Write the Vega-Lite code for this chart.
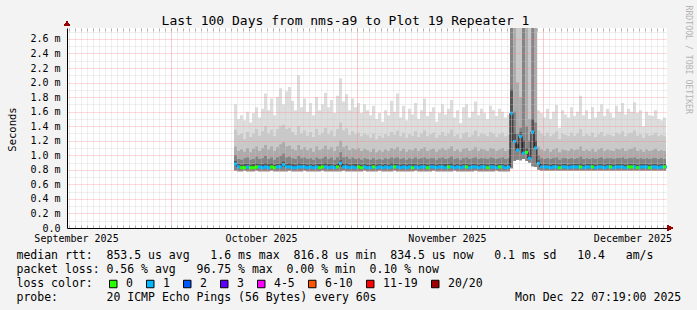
{
  "$schema": "https://vega.github.io/schema/vega-lite/v6.json",
  "width": 600,
  "height": 200,
  "autosize": "none",
  "padding": {"left": 67, "top": 28, "right": 30, "bottom": 82},
  "background": "#f3f3f3",
  "config": {
    "font": "DejaVu Sans Mono",
    "view": {"fill": "#ffffff", "stroke": null},
    "axis": {"labelFont": "DejaVu Sans Mono", "titleFont": "DejaVu Sans Mono", "labelColor": "#000000", "titleColor": "#000000", "titleFontWeight": "normal"}
  },
  "data": {"values": [
    {"t":"2025-10-11T12:00","mn":0.79,"md":0.88,"a":0.92,"b":1.0,"c":1.12,"d":1.35,"mx":1.7,"l":"1"},
    {"t":"2025-10-12T00:00","mn":0.78,"md":0.84,"a":0.88,"b":0.95,"c":1.06,"d":1.28,"mx":1.5,"l":"1"},
    {"t":"2025-10-12T12:00","mn":0.78,"md":0.83,"a":0.87,"b":0.94,"c":1.08,"d":1.3,"mx":1.55,"l":"0"},
    {"t":"2025-10-13T00:00","mn":0.79,"md":0.83,"a":0.88,"b":0.96,"c":1.05,"d":1.22,"mx":1.48,"l":"0"},
    {"t":"2025-10-13T12:00","mn":0.78,"md":0.84,"a":0.88,"b":0.97,"c":1.1,"d":1.32,"mx":1.6,"l":"1"},
    {"t":"2025-10-14T00:00","mn":0.78,"md":0.83,"a":0.87,"b":0.94,"c":1.04,"d":1.25,"mx":1.45,"l":"0"},
    {"t":"2025-10-14T12:00","mn":0.78,"md":0.83,"a":0.88,"b":0.95,"c":1.09,"d":1.3,"mx":1.58,"l":"0"},
    {"t":"2025-10-15T00:00","mn":0.79,"md":0.84,"a":0.89,"b":0.98,"c":1.12,"d":1.36,"mx":1.66,"l":"0"},
    {"t":"2025-10-15T12:00","mn":0.78,"md":0.84,"a":0.88,"b":0.95,"c":1.06,"d":1.27,"mx":1.52,"l":"1"},
    {"t":"2025-10-16T00:00","mn":0.78,"md":0.83,"a":0.88,"b":0.96,"c":1.1,"d":1.33,"mx":1.64,"l":"1"},
    {"t":"2025-10-16T12:00","mn":0.78,"md":0.84,"a":0.89,"b":0.99,"c":1.14,"d":1.4,"mx":1.85,"l":"1"},
    {"t":"2025-10-17T00:00","mn":0.78,"md":0.83,"a":0.88,"b":0.95,"c":1.08,"d":1.3,"mx":1.62,"l":"1"},
    {"t":"2025-10-17T12:00","mn":0.79,"md":0.84,"a":0.89,"b":0.97,"c":1.12,"d":1.35,"mx":1.78,"l":"0"},
    {"t":"2025-10-18T00:00","mn":0.78,"md":0.83,"a":0.87,"b":0.94,"c":1.06,"d":1.26,"mx":1.55,"l":"0"},
    {"t":"2025-10-18T12:00","mn":0.78,"md":0.84,"a":0.88,"b":0.97,"c":1.11,"d":1.36,"mx":1.8,"l":"1"},
    {"t":"2025-10-19T00:00","mn":0.78,"md":0.84,"a":0.89,"b":0.99,"c":1.15,"d":1.4,"mx":1.92,"l":"1"},
    {"t":"2025-10-19T12:00","mn":0.78,"md":0.87,"a":0.91,"b":1.02,"c":1.18,"d":1.42,"mx":1.7,"l":"1"},
    {"t":"2025-10-20T00:00","mn":0.78,"md":0.84,"a":0.88,"b":0.97,"c":1.12,"d":1.36,"mx":1.88,"l":"1"},
    {"t":"2025-10-20T12:00","mn":0.79,"md":0.84,"a":0.89,"b":0.98,"c":1.13,"d":1.38,"mx":1.94,"l":"1"},
    {"t":"2025-10-21T00:00","mn":0.78,"md":0.83,"a":0.88,"b":0.96,"c":1.09,"d":1.32,"mx":1.75,"l":"1"},
    {"t":"2025-10-21T12:00","mn":0.78,"md":0.83,"a":0.87,"b":0.95,"c":1.07,"d":1.28,"mx":1.62,"l":"1"},
    {"t":"2025-10-22T00:00","mn":0.78,"md":0.84,"a":0.89,"b":0.99,"c":1.14,"d":1.4,"mx":2.1,"l":"1"},
    {"t":"2025-10-22T12:00","mn":0.78,"md":0.84,"a":0.88,"b":0.96,"c":1.08,"d":1.3,"mx":1.66,"l":"1"},
    {"t":"2025-10-23T00:00","mn":0.79,"md":0.84,"a":0.88,"b":0.97,"c":1.11,"d":1.34,"mx":1.78,"l":"1"},
    {"t":"2025-10-23T12:00","mn":0.78,"md":0.83,"a":0.87,"b":0.95,"c":1.07,"d":1.27,"mx":1.6,"l":"1"},
    {"t":"2025-10-24T00:00","mn":0.78,"md":0.84,"a":0.88,"b":0.96,"c":1.1,"d":1.32,"mx":1.72,"l":"1"},
    {"t":"2025-10-24T12:00","mn":0.78,"md":0.83,"a":0.87,"b":0.94,"c":1.05,"d":1.25,"mx":1.55,"l":"1"},
    {"t":"2025-10-25T00:00","mn":0.78,"md":0.84,"a":0.88,"b":0.97,"c":1.12,"d":1.36,"mx":1.8,"l":"1"},
    {"t":"2025-10-25T12:00","mn":0.78,"md":0.83,"a":0.88,"b":0.95,"c":1.07,"d":1.28,"mx":1.62,"l":"0"},
    {"t":"2025-10-26T00:00","mn":0.79,"md":0.84,"a":0.88,"b":0.96,"c":1.09,"d":1.31,"mx":1.7,"l":"0"},
    {"t":"2025-10-26T12:00","mn":0.78,"md":0.84,"a":0.89,"b":0.98,"c":1.13,"d":1.38,"mx":1.86,"l":"1"},
    {"t":"2025-10-27T00:00","mn":0.78,"md":0.83,"a":0.88,"b":0.95,"c":1.08,"d":1.29,"mx":1.66,"l":"1"},
    {"t":"2025-10-27T12:00","mn":0.78,"md":0.84,"a":0.88,"b":0.97,"c":1.11,"d":1.34,"mx":1.76,"l":"1"},
    {"t":"2025-10-28T00:00","mn":0.78,"md":0.83,"a":0.87,"b":0.94,"c":1.06,"d":1.26,"mx":1.58,"l":"1"},
    {"t":"2025-10-28T12:00","mn":0.78,"md":0.84,"a":0.88,"b":0.97,"c":1.12,"d":1.36,"mx":1.82,"l":"0"},
    {"t":"2025-10-29T00:00","mn":0.78,"md":0.89,"a":0.93,"b":1.04,"c":1.2,"d":1.45,"mx":2.06,"l":"1"},
    {"t":"2025-10-29T12:00","mn":0.79,"md":0.84,"a":0.88,"b":0.97,"c":1.11,"d":1.34,"mx":1.74,"l":"1"},
    {"t":"2025-10-30T00:00","mn":0.78,"md":0.84,"a":0.89,"b":0.98,"c":1.13,"d":1.37,"mx":1.84,"l":"1"},
    {"t":"2025-10-30T12:00","mn":0.78,"md":0.83,"a":0.87,"b":0.95,"c":1.07,"d":1.28,"mx":1.62,"l":"1"},
    {"t":"2025-10-31T00:00","mn":0.78,"md":0.84,"a":0.88,"b":0.97,"c":1.1,"d":1.33,"mx":1.78,"l":"1"},
    {"t":"2025-10-31T12:00","mn":0.78,"md":0.83,"a":0.88,"b":0.95,"c":1.08,"d":1.29,"mx":1.66,"l":"1"},
    {"t":"2025-11-01T00:00","mn":0.78,"md":0.84,"a":0.88,"b":0.96,"c":1.1,"d":1.31,"mx":1.72,"l":"0"},
    {"t":"2025-11-01T12:00","mn":0.78,"md":0.83,"a":0.87,"b":0.94,"c":1.06,"d":1.26,"mx":1.58,"l":"0"},
    {"t":"2025-11-02T00:00","mn":0.79,"md":0.84,"a":0.88,"b":0.96,"c":1.09,"d":1.3,"mx":1.7,"l":"1"},
    {"t":"2025-11-02T12:00","mn":0.78,"md":0.83,"a":0.87,"b":0.95,"c":1.07,"d":1.28,"mx":1.62,"l":"1"},
    {"t":"2025-11-03T00:00","mn":0.78,"md":0.83,"a":0.87,"b":0.94,"c":1.05,"d":1.24,"mx":1.55,"l":"1"},
    {"t":"2025-11-03T12:00","mn":0.78,"md":0.84,"a":0.88,"b":0.96,"c":1.09,"d":1.3,"mx":1.68,"l":"0"},
    {"t":"2025-11-04T00:00","mn":0.78,"md":0.83,"a":0.87,"b":0.94,"c":1.04,"d":1.22,"mx":1.5,"l":"1"},
    {"t":"2025-11-04T12:00","mn":0.79,"md":0.84,"a":0.88,"b":0.95,"c":1.07,"d":1.27,"mx":1.58,"l":"1"},
    {"t":"2025-11-05T00:00","mn":0.78,"md":0.83,"a":0.87,"b":0.94,"c":1.05,"d":1.24,"mx":1.46,"l":"1"},
    {"t":"2025-11-05T12:00","mn":0.78,"md":0.84,"a":0.88,"b":0.96,"c":1.08,"d":1.29,"mx":1.62,"l":"1"},
    {"t":"2025-11-06T00:00","mn":0.78,"md":0.83,"a":0.87,"b":0.95,"c":1.06,"d":1.26,"mx":1.55,"l":"1"},
    {"t":"2025-11-06T12:00","mn":0.78,"md":0.84,"a":0.89,"b":0.97,"c":1.1,"d":1.32,"mx":1.75,"l":"1"},
    {"t":"2025-11-07T00:00","mn":0.79,"md":0.84,"a":0.88,"b":0.96,"c":1.08,"d":1.28,"mx":1.6,"l":"0"},
    {"t":"2025-11-07T12:00","mn":0.78,"md":0.84,"a":0.88,"b":0.97,"c":1.11,"d":1.34,"mx":1.85,"l":"1"},
    {"t":"2025-11-08T00:00","mn":0.78,"md":0.83,"a":0.87,"b":0.95,"c":1.06,"d":1.26,"mx":1.52,"l":"1"},
    {"t":"2025-11-08T12:00","mn":0.78,"md":0.84,"a":0.88,"b":0.96,"c":1.09,"d":1.31,"mx":1.68,"l":"1"},
    {"t":"2025-11-09T00:00","mn":0.78,"md":0.83,"a":0.87,"b":0.94,"c":1.05,"d":1.24,"mx":1.48,"l":"1"},
    {"t":"2025-11-09T12:00","mn":0.78,"md":0.84,"a":0.88,"b":0.96,"c":1.08,"d":1.29,"mx":1.64,"l":"1"},
    {"t":"2025-11-10T00:00","mn":0.78,"md":0.83,"a":0.88,"b":0.95,"c":1.07,"d":1.27,"mx":1.56,"l":"0"},
    {"t":"2025-11-10T12:00","mn":0.79,"md":0.84,"a":0.88,"b":0.97,"c":1.1,"d":1.33,"mx":1.72,"l":"1"},
    {"t":"2025-11-11T00:00","mn":0.78,"md":0.83,"a":0.87,"b":0.95,"c":1.06,"d":1.25,"mx":1.5,"l":"1"},
    {"t":"2025-11-11T12:00","mn":0.78,"md":0.84,"a":0.88,"b":0.96,"c":1.09,"d":1.3,"mx":1.62,"l":"1"},
    {"t":"2025-11-12T00:00","mn":0.78,"md":0.84,"a":0.88,"b":0.97,"c":1.11,"d":1.34,"mx":1.78,"l":"1"},
    {"t":"2025-11-12T12:00","mn":0.78,"md":0.83,"a":0.87,"b":0.95,"c":1.06,"d":1.26,"mx":1.54,"l":"0"},
    {"t":"2025-11-13T00:00","mn":0.78,"md":0.84,"a":0.88,"b":0.96,"c":1.08,"d":1.29,"mx":1.6,"l":"1"},
    {"t":"2025-11-13T12:00","mn":0.79,"md":0.84,"a":0.88,"b":0.96,"c":1.09,"d":1.31,"mx":1.66,"l":"1"},
    {"t":"2025-11-14T00:00","mn":0.78,"md":0.83,"a":0.87,"b":0.94,"c":1.05,"d":1.24,"mx":1.46,"l":"1"},
    {"t":"2025-11-14T12:00","mn":0.78,"md":0.84,"a":0.88,"b":0.96,"c":1.08,"d":1.28,"mx":1.58,"l":"1"},
    {"t":"2025-11-15T00:00","mn":0.78,"md":0.84,"a":0.88,"b":0.97,"c":1.1,"d":1.32,"mx":1.7,"l":"1"},
    {"t":"2025-11-15T12:00","mn":0.78,"md":0.83,"a":0.88,"b":0.95,"c":1.07,"d":1.27,"mx":1.56,"l":"1"},
    {"t":"2025-11-16T00:00","mn":0.78,"md":0.84,"a":0.88,"b":0.96,"c":1.09,"d":1.3,"mx":1.64,"l":"0"},
    {"t":"2025-11-16T12:00","mn":0.78,"md":0.84,"a":0.89,"b":0.98,"c":1.12,"d":1.35,"mx":1.76,"l":"1"},
    {"t":"2025-11-17T00:00","mn":0.79,"md":0.83,"a":0.87,"b":0.95,"c":1.06,"d":1.26,"mx":1.52,"l":"1"},
    {"t":"2025-11-17T12:00","mn":0.78,"md":0.84,"a":0.88,"b":0.96,"c":1.08,"d":1.29,"mx":1.62,"l":"1"},
    {"t":"2025-11-18T00:00","mn":0.78,"md":0.83,"a":0.87,"b":0.94,"c":1.05,"d":1.23,"mx":1.44,"l":"1"},
    {"t":"2025-11-18T12:00","mn":0.78,"md":0.84,"a":0.88,"b":0.96,"c":1.09,"d":1.3,"mx":1.66,"l":"1"},
    {"t":"2025-11-19T00:00","mn":0.78,"md":0.84,"a":0.88,"b":0.97,"c":1.1,"d":1.32,"mx":1.7,"l":"0"},
    {"t":"2025-11-19T12:00","mn":0.78,"md":0.83,"a":0.87,"b":0.95,"c":1.06,"d":1.25,"mx":1.52,"l":"1"},
    {"t":"2025-11-20T00:00","mn":0.78,"md":0.84,"a":0.88,"b":0.96,"c":1.08,"d":1.28,"mx":1.6,"l":"1"},
    {"t":"2025-11-20T12:00","mn":0.79,"md":0.84,"a":0.88,"b":0.97,"c":1.11,"d":1.34,"mx":1.74,"l":"1"},
    {"t":"2025-11-21T00:00","mn":0.78,"md":0.83,"a":0.87,"b":0.95,"c":1.06,"d":1.26,"mx":1.55,"l":"1"},
    {"t":"2025-11-21T12:00","mn":0.78,"md":0.84,"a":0.88,"b":0.96,"c":1.09,"d":1.3,"mx":1.64,"l":"1"},
    {"t":"2025-11-22T00:00","mn":0.78,"md":0.84,"a":0.88,"b":0.96,"c":1.08,"d":1.29,"mx":1.58,"l":"1"},
    {"t":"2025-11-22T12:00","mn":0.78,"md":0.83,"a":0.87,"b":0.95,"c":1.06,"d":1.26,"mx":1.5,"l":"0"},
    {"t":"2025-11-23T00:00","mn":0.78,"md":0.84,"a":0.88,"b":0.97,"c":1.1,"d":1.32,"mx":1.68,"l":"1"},
    {"t":"2025-11-23T12:00","mn":0.78,"md":0.84,"a":0.88,"b":0.96,"c":1.09,"d":1.3,"mx":1.62,"l":"1"},
    {"t":"2025-11-24T00:00","mn":0.79,"md":0.83,"a":0.87,"b":0.95,"c":1.06,"d":1.25,"mx":1.54,"l":"1"},
    {"t":"2025-11-24T12:00","mn":0.78,"md":0.84,"a":0.88,"b":0.96,"c":1.08,"d":1.29,"mx":1.64,"l":"0"},
    {"t":"2025-11-25T00:00","mn":0.78,"md":0.84,"a":0.88,"b":0.97,"c":1.1,"d":1.31,"mx":1.6,"l":"1"},
    {"t":"2025-11-25T12:00","mn":0.78,"md":0.83,"a":0.87,"b":0.95,"c":1.06,"d":1.26,"mx":1.52,"l":"1"},
    {"t":"2025-11-26T00:00","mn":0.78,"md":0.84,"a":0.88,"b":0.96,"c":1.08,"d":1.28,"mx":1.56,"l":"1"},
    {"t":"2025-11-26T12:00","mn":0.82,"md":1.58,"a":1.9,"b":3.0,"c":3.0,"d":3.0,"mx":3.0,"l":"1"},
    {"t":"2025-11-27T00:00","mn":0.92,"md":1.19,"a":1.3,"b":1.6,"c":3.0,"d":3.0,"mx":3.0,"l":"1"},
    {"t":"2025-11-27T12:00","mn":0.94,"md":1.07,"a":1.15,"b":1.3,"c":2.0,"d":3.0,"mx":3.0,"l":"1"},
    {"t":"2025-11-28T00:00","mn":0.93,"md":1.26,"a":1.32,"b":1.38,"c":1.8,"d":3.0,"mx":3.0,"l":"1"},
    {"t":"2025-11-28T12:00","mn":0.95,"md":1.03,"a":1.2,"b":3.0,"c":3.0,"d":3.0,"mx":3.0,"l":"1"},
    {"t":"2025-11-29T00:00","mn":0.92,"md":1.04,"a":1.1,"b":1.4,"c":3.0,"d":3.0,"mx":3.0,"l":"0"},
    {"t":"2025-11-29T12:00","mn":0.9,"md":0.96,"a":1.0,"b":1.2,"c":1.5,"d":3.0,"mx":3.0,"l":"1"},
    {"t":"2025-11-30T00:00","mn":0.85,"md":1.32,"a":1.5,"b":3.0,"c":3.0,"d":3.0,"mx":3.0,"l":"1"},
    {"t":"2025-11-30T12:00","mn":0.84,"md":1.1,"a":1.2,"b":1.45,"c":3.0,"d":3.0,"mx":3.0,"l":"1"},
    {"t":"2025-12-01T00:00","mn":0.8,"md":0.89,"a":0.93,"b":1.0,"c":1.12,"d":1.34,"mx":1.62,"l":"1"},
    {"t":"2025-12-01T12:00","mn":0.79,"md":0.84,"a":0.88,"b":0.96,"c":1.08,"d":1.3,"mx":1.58,"l":"1"},
    {"t":"2025-12-02T00:00","mn":0.79,"md":0.84,"a":0.88,"b":0.95,"c":1.06,"d":1.27,"mx":1.52,"l":"1"},
    {"t":"2025-12-02T12:00","mn":0.79,"md":0.84,"a":0.88,"b":0.96,"c":1.09,"d":1.31,"mx":1.64,"l":"1"},
    {"t":"2025-12-03T00:00","mn":0.79,"md":0.83,"a":0.87,"b":0.95,"c":1.05,"d":1.26,"mx":1.5,"l":"1"},
    {"t":"2025-12-03T12:00","mn":0.79,"md":0.84,"a":0.88,"b":0.96,"c":1.08,"d":1.29,"mx":1.6,"l":"1"},
    {"t":"2025-12-04T00:00","mn":0.79,"md":0.84,"a":0.88,"b":0.97,"c":1.1,"d":1.33,"mx":1.69,"l":"1"},
    {"t":"2025-12-04T12:00","mn":0.79,"md":0.83,"a":0.87,"b":0.94,"c":1.04,"d":1.22,"mx":1.38,"l":"0"},
    {"t":"2025-12-05T00:00","mn":0.79,"md":0.84,"a":0.88,"b":0.96,"c":1.08,"d":1.3,"mx":1.62,"l":"1"},
    {"t":"2025-12-05T12:00","mn":0.79,"md":0.84,"a":0.88,"b":0.96,"c":1.07,"d":1.28,"mx":1.56,"l":"1"},
    {"t":"2025-12-06T00:00","mn":0.79,"md":0.83,"a":0.87,"b":0.95,"c":1.06,"d":1.26,"mx":1.52,"l":"1"},
    {"t":"2025-12-06T12:00","mn":0.79,"md":0.84,"a":0.88,"b":0.96,"c":1.09,"d":1.31,"mx":1.66,"l":"1"},
    {"t":"2025-12-07T00:00","mn":0.79,"md":0.84,"a":0.88,"b":0.95,"c":1.07,"d":1.27,"mx":1.54,"l":"1"},
    {"t":"2025-12-07T12:00","mn":0.79,"md":0.84,"a":0.88,"b":0.96,"c":1.08,"d":1.3,"mx":1.6,"l":"1"},
    {"t":"2025-12-08T00:00","mn":0.79,"md":0.84,"a":0.89,"b":0.98,"c":1.12,"d":1.36,"mx":1.82,"l":"0"},
    {"t":"2025-12-08T12:00","mn":0.79,"md":0.83,"a":0.87,"b":0.95,"c":1.06,"d":1.26,"mx":1.55,"l":"1"},
    {"t":"2025-12-09T00:00","mn":0.79,"md":0.84,"a":0.88,"b":0.96,"c":1.08,"d":1.29,"mx":1.62,"l":"1"},
    {"t":"2025-12-09T12:00","mn":0.79,"md":0.84,"a":0.88,"b":0.95,"c":1.06,"d":1.27,"mx":1.5,"l":"1"},
    {"t":"2025-12-10T00:00","mn":0.79,"md":0.84,"a":0.88,"b":0.96,"c":1.09,"d":1.31,"mx":1.66,"l":"0"},
    {"t":"2025-12-10T12:00","mn":0.79,"md":0.83,"a":0.87,"b":0.95,"c":1.05,"d":1.25,"mx":1.52,"l":"1"},
    {"t":"2025-12-11T00:00","mn":0.79,"md":0.84,"a":0.88,"b":0.96,"c":1.08,"d":1.29,"mx":1.6,"l":"1"},
    {"t":"2025-12-11T12:00","mn":0.79,"md":0.84,"a":0.88,"b":0.97,"c":1.1,"d":1.32,"mx":1.7,"l":"1"},
    {"t":"2025-12-12T00:00","mn":0.79,"md":0.83,"a":0.87,"b":0.95,"c":1.06,"d":1.26,"mx":1.54,"l":"1"},
    {"t":"2025-12-12T12:00","mn":0.79,"md":0.84,"a":0.88,"b":0.96,"c":1.08,"d":1.29,"mx":1.64,"l":"1"},
    {"t":"2025-12-13T00:00","mn":0.79,"md":0.84,"a":0.88,"b":0.96,"c":1.07,"d":1.28,"mx":1.58,"l":"0"},
    {"t":"2025-12-13T12:00","mn":0.79,"md":0.83,"a":0.87,"b":0.95,"c":1.06,"d":1.26,"mx":1.52,"l":"1"},
    {"t":"2025-12-14T00:00","mn":0.79,"md":0.84,"a":0.88,"b":0.96,"c":1.09,"d":1.31,"mx":1.68,"l":"1"},
    {"t":"2025-12-14T12:00","mn":0.79,"md":0.84,"a":0.88,"b":0.96,"c":1.08,"d":1.29,"mx":1.6,"l":"1"},
    {"t":"2025-12-15T00:00","mn":0.79,"md":0.84,"a":0.88,"b":0.97,"c":1.1,"d":1.33,"mx":1.72,"l":"1"},
    {"t":"2025-12-15T12:00","mn":0.79,"md":0.83,"a":0.87,"b":0.95,"c":1.06,"d":1.26,"mx":1.56,"l":"1"},
    {"t":"2025-12-16T00:00","mn":0.79,"md":0.84,"a":0.88,"b":0.96,"c":1.08,"d":1.3,"mx":1.64,"l":"0"},
    {"t":"2025-12-16T12:00","mn":0.79,"md":0.84,"a":0.88,"b":0.96,"c":1.09,"d":1.31,"mx":1.6,"l":"0"},
    {"t":"2025-12-17T00:00","mn":0.79,"md":0.84,"a":0.88,"b":0.97,"c":1.11,"d":1.34,"mx":1.73,"l":"1"},
    {"t":"2025-12-17T12:00","mn":0.79,"md":0.83,"a":0.87,"b":0.95,"c":1.06,"d":1.27,"mx":1.58,"l":"0"},
    {"t":"2025-12-18T00:00","mn":0.79,"md":0.84,"a":0.88,"b":0.96,"c":1.08,"d":1.29,"mx":1.62,"l":"1"},
    {"t":"2025-12-18T12:00","mn":0.79,"md":0.84,"a":0.88,"b":0.95,"c":1.05,"d":1.24,"mx":1.4,"l":"1"},
    {"t":"2025-12-19T00:00","mn":0.79,"md":0.84,"a":0.88,"b":0.96,"c":1.08,"d":1.3,"mx":1.6,"l":"1"},
    {"t":"2025-12-19T12:00","mn":0.79,"md":0.83,"a":0.87,"b":0.95,"c":1.06,"d":1.27,"mx":1.55,"l":"0"},
    {"t":"2025-12-20T00:00","mn":0.79,"md":0.84,"a":0.88,"b":0.96,"c":1.07,"d":1.28,"mx":1.54,"l":"1"},
    {"t":"2025-12-20T12:00","mn":0.79,"md":0.84,"a":0.88,"b":0.96,"c":1.09,"d":1.31,"mx":1.62,"l":"1"},
    {"t":"2025-12-21T00:00","mn":0.79,"md":0.83,"a":0.87,"b":0.95,"c":1.06,"d":1.26,"mx":1.5,"l":"1"},
    {"t":"2025-12-21T12:00","mn":0.79,"md":0.84,"a":0.88,"b":0.96,"c":1.07,"d":1.28,"mx":1.48,"l":"1"},
    {"t":"2025-12-22T00:00","mn":0.79,"md":0.84,"a":0.88,"b":0.95,"c":1.06,"d":1.26,"mx":1.52,"l":"0"},
    {"t":"2025-12-22T12:00","mn":0.79,"md":0.84,"a":0.88,"b":0.96,"c":1.08,"d":1.29,"mx":1.56,"l":"1"}
  ]},
  "resolve": {"axis": {"x": "independent", "y": "independent"}},
  "layer": [
    {
      "mark": {"type": "area", "interpolate": "step-after", "color": "#dddddd", "clip": true},
      "encoding": {
        "x": {"field": "t", "type": "temporal",
          "scale": {"domain": [{"year": 2025, "month": 9, "date": 13, "hours": 16}, {"year": 2025, "month": 12, "date": 22, "hours": 16}]},
          "axis": {"orient": "bottom", "tickCount": {"interval": "day", "step": 1}, "grid": true, "gridColor": "#c4c4c4", "gridDash": [1, 1], "gridOpacity": 0.55, "labels": false, "ticks": true, "tickSize": -3, "tickColor": "#b0b0b0", "domain": false, "title": null, "zindex": 1}},
        "y": {"field": "mx", "type": "quantitative",
          "scale": {"domain": [0, 2.75], "nice": false, "zero": false},
          "axis": {"orient": "left", "values": [0.1, 0.3, 0.5, 0.7, 0.9, 1.1, 1.3, 1.5, 1.7, 1.9, 2.1, 2.3, 2.5, 2.7], "grid": true, "gridColor": "#c4c4c4", "gridDash": [1, 1], "gridOpacity": 0.55, "labels": false, "ticks": false, "domain": false, "title": null, "zindex": 1}},
        "y2": {"field": "mn"}
      }
    },
    {
      "mark": {"type": "area", "interpolate": "step-after", "color": "#c9c9c9", "clip": true},
      "encoding": {
        "x": {"field": "t", "type": "temporal",
          "axis": {"orient": "bottom", "values": [{"year": 2025, "month": 10, "date": 1}, {"year": 2025, "month": 11, "date": 1}, {"year": 2025, "month": 12, "date": 2}], "grid": true, "gridColor": "#ff8080", "gridDash": [1, 1], "gridOpacity": 0.6, "labels": false, "ticks": false, "domain": true, "domainColor": "#000000", "domainWidth": 1, "zindex": 1,
            "title": ["median rtt:\u00a0\u00a0853.5 us avg\u00a0\u00a0\u00a01.6 ms max\u00a0\u00a0816.8 us min\u00a0\u00a0834.5 us now\u00a0\u00a0\u00a00.1 ms sd\u00a0\u00a0\u00a010.4\u00a0\u00a0\u00a0am/s", "packet loss: 0.56 % avg\u00a0\u00a0\u00a096.75 % max\u00a0\u00a00.00 % min\u00a0\u00a00.10 % now", "loss color:", "probe:\u00a0\u00a0\u00a0\u00a0\u00a0\u00a0\u00a020 ICMP Echo Pings (56 Bytes) every 60s\u00a0\u00a0\u00a0\u00a0\u00a0\u00a0\u00a0\u00a0\u00a0\u00a0\u00a0\u00a0\u00a0\u00a0\u00a0\u00a0\u00a0\u00a0\u00a0\u00a0Mon Dec 22 07:19:00 2025"],
            "titleFontSize": 11.5, "titleAlign": "left", "titleAnchor": "start", "titleX": -51, "titleY": 30, "titleBaseline": "alphabetic", "titleLineHeight": 14}},
        "y": {"field": "d", "type": "quantitative",
          "axis": {"orient": "left", "values": [0, 0.2, 0.4, 0.6, 0.8, 1.0, 1.2, 1.4, 1.6, 1.8, 2.0, 2.2, 2.4, 2.6], "grid": true, "gridColor": "#ff8080", "gridDash": [1, 1], "gridOpacity": 0.6, "ticks": false, "tickSize": 0, "labelPadding": 7, "labelFontSize": 10,
            "labelExpr": "datum.value == 0 ? '0.0' : format(datum.value, '.1f') + '\u00a0m'",
            "domain": true, "domainColor": "#000000", "domainWidth": 1, "zindex": 1,
            "title": "Seconds", "titleFontSize": 10.5, "titleAngle": -90, "titleX": -52, "titleY": 101, "titleAlign": "center", "titleBaseline": "alphabetic"}},
        "y2": {"field": "mn"}
      }
    },
    {
      "mark": {"type": "area", "interpolate": "step-after", "color": "#ababab", "clip": true},
      "encoding": {
        "x": {"field": "t", "type": "temporal",
          "axis": {"orient": "bottom", "values": [{"year": 2025, "month": 9, "date": 15, "hours": 4}, {"year": 2025, "month": 10, "date": 16}, {"year": 2025, "month": 11, "date": 16}, {"year": 2025, "month": 12, "date": 16, "hours": 22}],
            "labelExpr": "timeFormat(datum.value, '%B %Y')", "labelFontSize": 10, "labelPadding": 5, "labelAlign": "center", "labelBaseline": "top", "labelOverlap": false, "labelFlush": false, "grid": false, "ticks": false, "tickSize": 0, "domain": false, "title": null}},
        "y": {"field": "c", "type": "quantitative",
          "axis": {"orient": "right", "labels": false, "ticks": false, "grid": false, "domain": false,
            "title": "RRDTOOL / TOBI OETIKER", "titleFontSize": 8.2, "titleColor": "#b4b4b4", "titleAngle": 90, "titleX": 20, "titleY": -23, "titleAlign": "left", "titleBaseline": "middle"}},
        "y2": {"field": "mn"}
      }
    },
    {
      "mark": {"type": "area", "interpolate": "step-after", "color": "#848484", "clip": true},
      "encoding": {
        "x": {"field": "t", "type": "temporal",
          "axis": {"orient": "top", "labels": false, "ticks": true, "tickCount": {"interval": "day", "step": 1}, "tickSize": -3, "tickColor": "#b0b0b0", "grid": false, "domain": false,
            "title": "Last 100 Days from nms-a9 to Plot 19 Repeater 1", "titleFontSize": 13, "titleX": 278, "titleY": -4, "titleAlign": "center", "titleBaseline": "alphabetic"}},
        "y": {"field": "b", "type": "quantitative", "axis": null},
        "y2": {"field": "mn"}
      }
    },
    {
      "mark": {"type": "area", "interpolate": "step-after", "color": "#555555", "clip": true},
      "encoding": {
        "x": {"field": "t", "type": "temporal", "axis": null},
        "y": {"field": "a", "type": "quantitative", "axis": null},
        "y2": {"field": "md"}
      }
    },
    {
      "mark": {"type": "line", "interpolate": "step-after", "color": "#000000", "strokeWidth": 1, "clip": true},
      "encoding": {
        "x": {"field": "t", "type": "temporal", "axis": null},
        "y": {"field": "md", "type": "quantitative", "axis": null}
      }
    },
    {
      "mark": {"type": "square", "size": 9, "opacity": 1, "filled": true, "xOffset": 1.5, "clip": true},
      "encoding": {
        "x": {"field": "t", "type": "temporal", "axis": null},
        "y": {"field": "md", "type": "quantitative", "axis": null},
        "color": {"field": "l", "type": "nominal",
          "scale": {"domain": ["0", "1", "2", "3", "4-5", "6-10", "11-19", "20/20"], "range": ["#26ff00", "#00b8ff", "#0059ff", "#5e00ff", "#ff00ff", "#ff5500", "#ff0000", "#a10000"]},
          "legend": {"orient": "none", "legendX": 40.5, "legendY": 250, "direction": "horizontal", "title": null, "labelFontSize": 11.5, "labelColor": "#000000", "symbolType": "square", "symbolSize": 56, "symbolStrokeColor": "#000000", "symbolStrokeWidth": 1, "symbolOpacity": 1, "labelOffset": 7, "columnPadding": 11}}
      }
    },
    {
      "mark": {"type": "point", "shape": "triangle-up", "size": 32, "filled": true, "color": "#990000", "opacity": 1},
      "encoding": {
        "x": {"datum": {"year": 2025, "month": 9, "date": 13, "hours": 16}, "type": "temporal", "axis": null},
        "y": {"datum": 2.81, "type": "quantitative", "axis": null}
      }
    },
    {
      "mark": {"type": "point", "shape": "triangle-right", "size": 32, "filled": true, "color": "#990000", "opacity": 1},
      "encoding": {
        "x": {"datum": {"year": 2025, "month": 12, "date": 23, "hours": 4}, "type": "temporal", "axis": null},
        "y": {"datum": 0, "type": "quantitative", "axis": null}
      }
    }
  ]
}
